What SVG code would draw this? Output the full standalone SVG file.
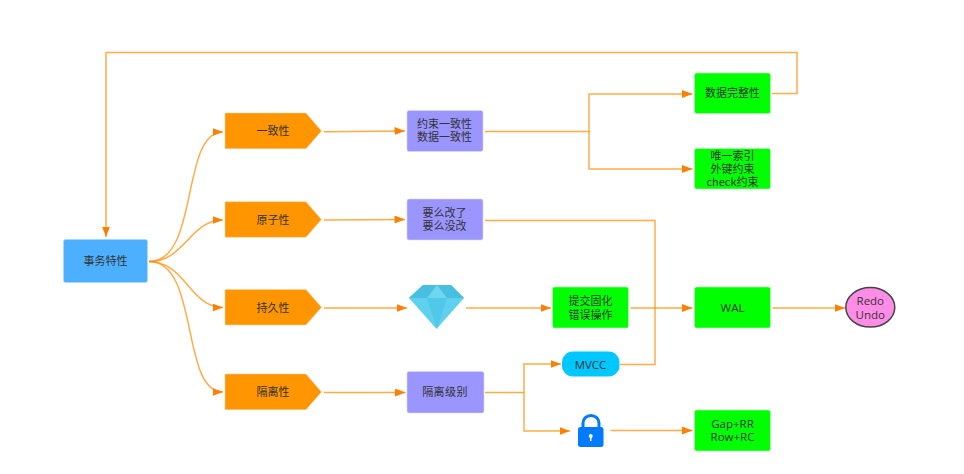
<svg xmlns="http://www.w3.org/2000/svg" width="964" height="474" viewBox="0 0 964 474">
<style>
text{font-family:"Noto Sans CJK SC","Liberation Sans",sans-serif;font-size:11px;text-anchor:middle;fill:#333}
text.l{font-family:"Open Sans","Noto Sans",sans-serif;font-size:11.500px}
.c{fill:none;stroke:#ff8c00;stroke-opacity:.72;stroke-width:1.500}
.pent{fill:#ff9500;stroke:#ffd9a6;stroke-width:.5}
.pu{fill:#9a95ff;stroke:#d8d6ff;stroke-width:.6}
.gr{fill:#00ff00;stroke:#b8ffb8;stroke-width:.6}
</style>
<defs>
<marker id="a" markerUnits="userSpaceOnUse" markerWidth="11" markerHeight="9" refX="10.500" refY="4" orient="auto"><path d="M0 0L10.500 4L0 8z" fill="#ff8000"/></marker>
</defs>
<rect width="964" height="474" fill="#fff"/>
<g id="connectors">
<path class="c" marker-end="url(#a)" d="M772 93.500H797V52.500H106V237"/>
<path class="c" marker-end="url(#a)" d="M149 261.500C200 261.500 180 132 223 132"/>
<path class="c" marker-end="url(#a)" d="M149 261.500C185 261.500 190 220 223 220"/>
<path class="c" marker-end="url(#a)" d="M149 261.500C185 261.500 190 307.500 223 307.500"/>
<path class="c" marker-end="url(#a)" d="M149 261.500C200 261.500 180 392 223 392"/>
<path class="c" marker-end="url(#a)" d="M324 131.700L405 131"/>
<path class="c" marker-end="url(#a)" d="M324 220L405 219.500"/>
<path class="c" marker-end="url(#a)" d="M324 308H407"/>
<path class="c" marker-end="url(#a)" d="M324 392.500H405.500"/>
<path class="c" marker-end="url(#a)" d="M485 131.500H589V94H692.500"/>
<path class="c" marker-end="url(#a)" d="M589 131.500V169H692.500"/>
<path class="c" d="M485 220.500H655V364.500H620"/>
<path class="c" marker-end="url(#a)" d="M466 308H551"/>
<path class="c" marker-end="url(#a)" d="M630.500 308H692.500"/>
<path class="c" marker-end="url(#a)" d="M772.500 308H845"/>
<path class="c" marker-end="url(#a)" d="M485 392.500H524V364H561"/>
<path class="c" marker-end="url(#a)" d="M524 392.500V431H570"/>
<path class="c" marker-end="url(#a)" d="M610.500 430.500H692.500"/>
</g>
<g id="n-root"><rect x="63.500" y="239.500" width="84" height="43" rx="2" fill="#4db0ff" stroke="#a8d8ff" stroke-width=".6"/><text x="105.500" y="265">事务特性</text></g>
<g id="n-a"><path class="pent" d="M225 113H306L321.500 131L306 148.700H225z"/><text x="273" y="135">一致性</text></g>
<g id="n-b"><path class="pent" d="M225 201.700H306L321.500 219.500L306 237.300H225z"/><text x="273" y="223.500">原子性</text></g>
<g id="n-c"><path class="pent" d="M225 289.500H306L321.500 307.300L306 325H225z"/><text x="273" y="311.500">持久性</text></g>
<g id="n-d"><path class="pent" d="M225 374H306L321.500 392L306 409.700H225z"/><text x="273" y="396">隔离性</text></g>
<g id="n-a2"><rect class="pu" x="407" y="110.500" width="76" height="41" rx="2"/><text x="444.500" y="128">约束一致性</text><text x="444.500" y="141.300">数据一致性</text></g>
<g id="n-b2"><rect class="pu" x="407" y="199" width="76" height="41" rx="2"/><text x="444.500" y="216.500">要么改了</text><text x="444.500" y="230">要么没改</text></g>
<g id="n-d2"><rect class="pu" x="407" y="371.500" width="77" height="41.500" rx="2"/><text x="445" y="396" letter-spacing=".4">隔离级别</text></g>
<g id="n-e1"><rect class="gr" x="694.500" y="73" width="76" height="40.500" rx="2"/><text x="732.500" y="97">数据完整性</text></g>
<g id="n-e2"><rect class="gr" x="694.500" y="148.500" width="76" height="40.500" rx="2"/><text x="732.500" y="159.500">唯一索引</text><text x="732.500" y="172.800">外键约束</text><text x="732.500" y="186">check约束</text></g>
<g id="n-commit"><rect class="gr" x="552.500" y="287" width="76" height="41" rx="2"/><text x="590.500" y="305">提交固化</text><text x="590.500" y="318.500">错误操作</text></g>
<g id="n-wal"><rect class="gr" x="694.500" y="287" width="76" height="41" rx="2"/><text class="l" x="732.500" y="311.500">WAL</text></g>
<g id="n-gap"><rect class="gr" x="694.500" y="410" width="76" height="41" rx="2"/><text class="l" x="732.500" y="428">Gap+RR</text><text class="l" x="732.500" y="441.300">Row+RC</text></g>
<g id="n-mvcc"><rect x="562" y="351.500" width="57.500" height="25" rx="11" fill="#00c8ff"/><text class="l" x="590.500" y="368.500">MVCC</text></g>
<g id="n-redo"><ellipse cx="870.300" cy="307.300" rx="24.500" ry="19.800" fill="#ff8de8" stroke="#444" stroke-width="1.500"/><text class="l" x="870.300" y="305">Redo</text><text class="l" x="870.300" y="318.500">Undo</text></g>
<g id="n-diamond">
<path d="M409 298L423 285H451L464 298L436.500 329z" fill="#5fd0ee"/>
<path d="M423 285H451L464 298H409z" fill="#48bfe0"/>
<path d="M437 285L427 298H447z" fill="#6fd6f0"/>
<path d="M427 298H447L437 329z" fill="#4fc8ea"/>
</g>
<g id="n-lock">
<path d="M583 428V423a8 7.500 0 0 1 16 0V428" fill="none" stroke="#007bff" stroke-width="3"/>
<rect x="578" y="427" width="25.500" height="20" rx="2.500" fill="#007bff"/>
<circle cx="590.700" cy="436" r="2" fill="#fff"/><rect x="590" y="436" width="1.500" height="5" fill="#fff"/>
</g>
</svg>
